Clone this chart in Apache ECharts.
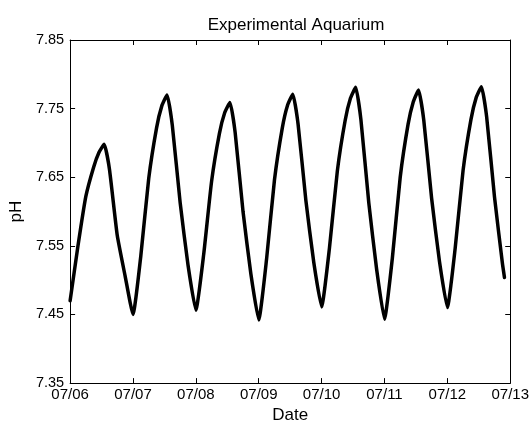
<!DOCTYPE html>
<html>
<head>
<meta charset="utf-8">
<script src="https://cdn.jsdelivr.net/npm/echarts@6/dist/echarts.min.js"></script>
<style>
  html, body { margin: 0; padding: 0; background: #fff; }
  #chart { width: 532px; height: 429px; }
</style>
</head>
<body>
<div id="chart"></div>
<script>
// hours since 07/06 00:00, and the pH read at each of them
var hours = [
  0, 3, 6, 9, 11, 13, 15, 18, 21,
  24, 27, 30, 33, 35, 37, 39, 42, 45,
  48, 51, 54, 57, 59, 61, 63, 66, 69,
  72, 75, 78, 81, 83, 85, 87, 90, 93,
  96, 99, 102, 105, 107, 109, 111, 114, 117,
  120, 123, 126, 129, 131, 133, 135, 138, 141,
  144, 147, 150, 153, 155, 157, 159, 162, 165, 165.8
];
var ph = [
  7.470, 7.550, 7.622, 7.665, 7.686, 7.698, 7.662, 7.565, 7.506,
  7.450, 7.536, 7.648, 7.722, 7.754, 7.770, 7.726, 7.613, 7.522,
  7.456, 7.538, 7.644, 7.714, 7.744, 7.759, 7.715, 7.600, 7.509,
  7.442, 7.531, 7.646, 7.722, 7.755, 7.771, 7.728, 7.616, 7.526,
  7.461, 7.547, 7.659, 7.733, 7.765, 7.781, 7.734, 7.613, 7.516,
  7.443, 7.532, 7.650, 7.727, 7.760, 7.777, 7.733, 7.619, 7.527,
  7.460, 7.547, 7.660, 7.734, 7.766, 7.782, 7.738, 7.621, 7.525, 7.504
];
var dateLabels = ['07/06', '07/07', '07/08', '07/09', '07/10', '07/11', '07/12', '07/13'];
var phTicks = [7.35, 7.45, 7.55, 7.65, 7.75, 7.85];

var font = '"Liberation Sans", Arial, Helvetica, sans-serif';

var points = [];
for (var i = 0; i < hours.length; i++) {
  points.push([hours[i], ph[i]]);
}

var axisLine = { show: true, onZero: false, lineStyle: { color: '#000', width: 1 } };
var tick = { show: true, inside: true, length: 5, lineStyle: { color: '#000', width: 1 } };

var chart = echarts.init(document.getElementById('chart'));
chart.setOption({
  animation: false,
  backgroundColor: '#fff',
  title: {
    text: 'Experimental Aquarium',
    left: 291, top: 12, textAlign: 'center',
    textStyle: { fontFamily: font, fontSize: 17, fontWeight: 'normal', color: '#000' }
  },
  grid: { left: 68, right: 18, top: 40, bottom: 37.5 },
  xAxis: [{
    type: 'value', min: 0, max: 24 * (dateLabels.length - 1), interval: 24,
    name: 'Date', nameLocation: 'middle', nameGap: 21,
    nameTextStyle: { fontFamily: font, fontSize: 17, color: '#000' },
    axisLine: axisLine, axisTick: tick, splitLine: { show: false },
    axisLabel: {
      showMinLabel: true, showMaxLabel: true, margin: 4,
      fontFamily: font, fontSize: 15, color: '#000',
      formatter: function (v) { return dateLabels[Math.round(v / 24)]; }
    }
  }, {
    type: 'value', position: 'top', min: 0, max: 24 * (dateLabels.length - 1), interval: 24,
    axisLine: axisLine, axisTick: tick, splitLine: { show: false },
    axisLabel: { show: false }
  }],
  yAxis: [{
    type: 'value', min: phTicks[0], max: phTicks[phTicks.length - 1], interval: 0.1,
    name: 'pH', nameLocation: 'middle', nameGap: 42,
    nameTextStyle: { fontFamily: font, fontSize: 17, color: '#000' },
    axisLine: axisLine, axisTick: tick, splitLine: { show: false },
    axisLabel: {
      showMinLabel: true, showMaxLabel: true, margin: 6,
      fontFamily: font, fontSize: 14.5, color: '#000',
      formatter: function (v) { return v.toFixed(2); }
    }
  }, {
    type: 'value', position: 'right', min: phTicks[0], max: phTicks[phTicks.length - 1], interval: 0.1,
    axisLine: axisLine, axisTick: tick, splitLine: { show: false },
    axisLabel: { show: false }
  }],
  series: [{
    type: 'line',
    data: points,
    showSymbol: false,
    smooth: 0.15,
    lineStyle: { color: '#000', width: 3.5, join: 'round', cap: 'round' }
  }]
});
</script>
</body>
</html>
